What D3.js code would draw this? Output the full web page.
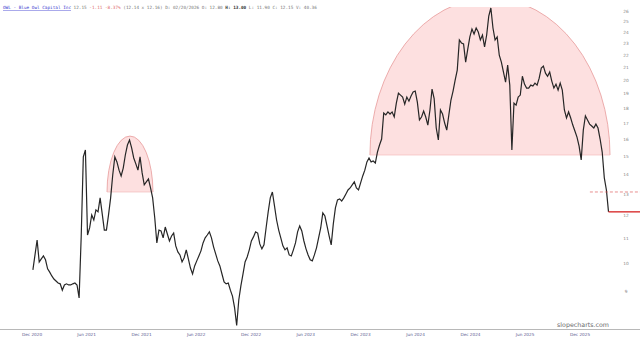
<!DOCTYPE html>
<html><head><meta charset="utf-8">
<script src="https://cdn.jsdelivr.net/npm/d3@7"></script>
<style>body{margin:0;background:#fff}svg{display:block}</style>
</head><body><svg id="c" width="640" height="340"></svg>
<script>
// ---- data ----
const tickerName = "OWL - Blue Owl Capital Inc";
const quoteLast = "12.15";
const quoteChange = "-1.11 -8.37%";
const quoteRest = "(12.14 x 12.16) D: 02/20/2026 O: 12.80";
const quoteHigh = "H: 13.00";
const quoteTail = "L: 11.90 C: 12.15 V: 40.36";
const xTickLabels = ["Dec 2020","Jun 2021","Dec 2021","Jun 2022","Dec 2022","Jun 2023","Dec 2023","Jun 2024","Dec 2024","Jun 2025","Dec 2025"];
const xTickDates  = ["2020-12-01","2021-06-01","2021-12-01","2022-06-01","2022-12-01","2023-06-01","2023-12-01","2024-06-01","2024-12-01","2025-06-01","2025-12-01"];
const yTickValues = [9,10,11,12,13,14,15,16,17,18,19,20,21,22,23,24,25,26];
const weekStart = "2020-12-04";
const weeklyClose = [
9.75,10.32,10.92,10.05,10.17,10.28,10.13,9.79,9.67,9.53,
9.42,9.35,9.28,9.25,9.03,9.21,9.25,9.21,9.21,9.25,
9.28,9.21,8.77,11.09,14.96,15.36,11.13,11.43,12.01,11.78,
12.24,12.15,12.81,12.06,11.34,11.34,12.01,12.81,13.97,14.96,
14.68,14.23,13.92,14.34,15.07,15.65,15.95,15.48,14.90,14.57,
14.23,14.96,14.08,13.46,13.61,13.76,13.30,12.81,11.88,10.80,
11.34,11.30,11.01,11.47,11.17,10.88,11.09,11.21,10.68,10.44,
10.32,10.05,10.21,10.52,10.17,9.82,9.60,9.90,10.09,10.28,
10.48,10.80,11.01,11.13,11.26,11.01,10.64,10.36,10.09,9.90,
9.60,9.32,9.25,9.28,9.03,8.83,8.45,7.90,8.70,9.18,
9.60,10.05,10.24,10.52,10.88,11.05,11.26,11.21,10.76,10.56,
10.72,11.43,12.15,12.81,13.10,12.43,11.78,11.34,11.01,10.68,
10.52,10.60,10.32,10.28,10.52,10.80,11.26,11.52,11.30,10.88,
10.56,10.32,10.13,10.09,10.32,10.60,11.01,11.43,12.10,11.96,
11.52,11.09,10.72,11.61,12.33,12.71,12.76,12.66,12.81,13.00,
13.20,13.30,13.46,13.61,13.30,13.20,13.56,13.92,14.23,14.68,
14.90,14.68,14.73,14.62,15.24,15.65,16.01,17.67,17.54,17.74,
17.60,17.74,17.41,18.34,19.05,18.91,18.77,18.27,18.77,18.48,
18.84,19.13,19.20,18.41,17.21,17.40,17.80,17.40,16.88,17.87,
19.35,18.66,16.69,15.95,17.87,17.60,17.01,16.56,17.54,18.56,
19.20,20.01,20.79,23.30,23.04,22.95,21.43,22.51,23.57,24.28,
23.83,24.38,24.01,23.30,23.74,22.69,23.74,25.51,26.30,24.38,
23.30,23.57,21.99,21.43,20.63,19.86,21.18,19.64,15.36,18.34,
18.20,18.77,18.91,20.31,19.71,19.42,19.42,19.64,19.57,19.79,
19.64,20.16,20.95,21.10,20.55,20.31,20.63,19.94,19.42,19.71,
19.27,19.79,19.27,17.87,17.34,17.74,17.34,16.88,16.50,16.13,
15.59,14.79,16.56,17.47,17.21,16.94,16.82,16.69,16.94,16.69,
16.01,15.24,13.82,13.20,12.15];
const domeStarts = ["2021-08-08","2024-01-01"];
const domeEnds   = ["2022-01-08","2026-03-11"];
const domeBase   = [13.10, 15.07];
const domeTop    = [16.19, 27.30];
const dashedFrom = "2026-01-03";
const dashedLevel = 13.10;
const lastPrice = 12.15;

// ---- drawing ----
const parse = d3.utcParse("%Y-%m-%d");
const svg = d3.select("#c");
const W = 640, H = 340;
const plotTop = 7, plotBottom = 329, plotRight = 612;

const x = d3.scaleUtc().domain([parse("2020-12-01"), parse("2025-12-01")]).range([32, 580]);
const y = d3.scaleLog().domain([7.795, 27.11]).range([329, 0]);

const t0 = parse(weekStart);
const series = weeklyClose.map((v,i)=>({date: d3.utcDay.offset(t0, 7*i), v}));

const defs = svg.append("defs");
defs.append("clipPath").attr("id","plot")
  .append("rect").attr("x",0).attr("y",plotTop).attr("width",plotRight).attr("height",plotBottom-plotTop);

const plot = svg.append("g").attr("clip-path","url(#plot)");

// domes
domeStarts.forEach((s,i)=>{
  const x0 = x(parse(s)), x1 = x(parse(domeEnds[i]));
  const yb = y(domeBase[i]), yt = y(domeTop[i]);
  const cid = "dome"+i;
  const top = Math.max(yt-2, plotTop);
  defs.append("clipPath").attr("id",cid)
    .append("rect").attr("x",x0-2).attr("y",top).attr("width",x1-x0+4).attr("height",yb-top);
  const g = plot.append("g").attr("clip-path",`url(#${cid})`);
  g.append("ellipse").attr("cx",(x0+x1)/2).attr("cy",yb).attr("rx",(x1-x0)/2).attr("ry",yb-yt)
    .attr("fill","#fde0e0").attr("stroke","#e79a9a").attr("stroke-width",0.8);
  plot.append("line").attr("x1",x0).attr("x2",x1).attr("y1",yb).attr("y2",yb)
    .attr("stroke","#f2bcbc").attr("stroke-width",0.7);
});

// price line
plot.append("path").datum(series)
  .attr("d", d3.line().x(d=>x(d.date)).y(d=>y(d.v)))
  .attr("fill","none").attr("stroke","#262626").attr("stroke-width",1.2).attr("stroke-linejoin","miter");

// dashed level & last price line
svg.append("line").attr("x1",x(parse(dashedFrom))).attr("x2",W).attr("y1",y(dashedLevel)).attr("y2",y(dashedLevel))
  .attr("stroke","#e06060").attr("stroke-width",0.7).attr("stroke-dasharray","3,2");
const lastDate = series[series.length-1].date;
svg.append("line").attr("x1",x(lastDate)).attr("x2",W).attr("y1",y(lastPrice)).attr("y2",y(lastPrice))
  .attr("stroke","#d93030").attr("stroke-width",1.4);

// right axis labels
svg.append("g").selectAll("text").data(yTickValues).join("text")
  .attr("x",626).attr("y",d=>y(d)+1.6).attr("text-anchor","middle")
  .attr("font-family","DejaVu Sans, sans-serif").attr("font-size",4.3).attr("fill","#888")
  .text(d=>d);

// bottom axis
svg.append("line").attr("x1",0).attr("x2",W).attr("y1",plotBottom+0.5).attr("y2",plotBottom+0.5)
  .attr("stroke","#b8b8b8").attr("stroke-width",1);
svg.append("g").selectAll("text").data(xTickDates).join("text")
  .attr("x",d=>x(parse(d))).attr("y",336).attr("text-anchor","middle")
  .attr("font-family","DejaVu Sans, sans-serif").attr("font-size",4.2).attr("fill","#5a5a90")
  .text((d,i)=>xTickLabels[i]);

// watermark
svg.append("text").attr("x",583).attr("y",326.5).attr("text-anchor","middle")
  .attr("font-family","DejaVu Sans, sans-serif").attr("font-size",6.3).attr("fill","#6a6a6a")
  .text("slopecharts.com");

// header
const hdr = svg.append("text").attr("x",3).attr("y",9)
  .attr("font-family","DejaVu Sans Mono, monospace").attr("font-size",4.35).attr("fill","#777");
hdr.append("tspan").attr("fill","#3b3bd0").attr("text-decoration","underline").text(tickerName);
hdr.append("tspan").text(" " + quoteLast + " ");
hdr.append("tspan").attr("fill","#e07070").text(quoteChange);
hdr.append("tspan").text(" " + quoteRest + " ");
hdr.append("tspan").attr("fill","#333").attr("font-weight","bold").text(quoteHigh);
hdr.append("tspan").text(" " + quoteTail);
</script></body></html>
